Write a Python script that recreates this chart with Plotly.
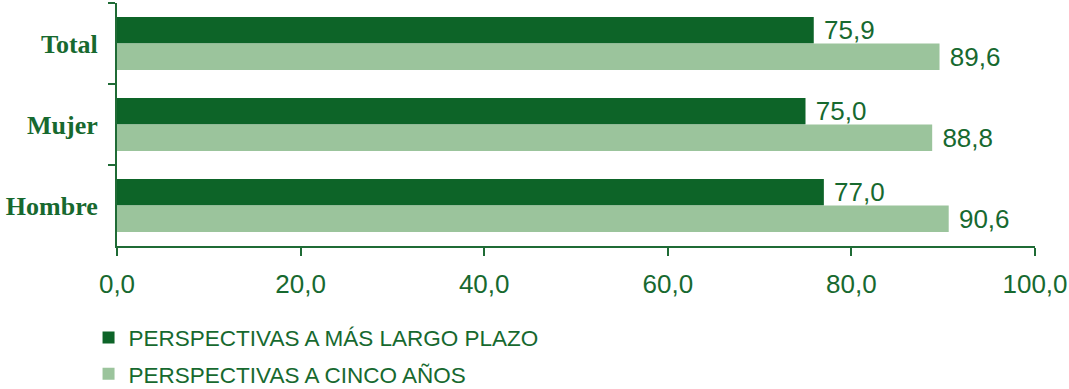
import plotly.graph_objects as go

categories = ["Total", "Mujer", "Hombre"]
largo_plazo = [75.9, 75.0, 77.0]
cinco_anos = [89.6, 88.8, 90.6]
series_names = ["PERSPECTIVAS A MÁS LARGO PLAZO", "PERSPECTIVAS A CINCO AÑOS"]
x_ticks = [0, 20, 40, 60, 80, 100]

DARK = "#0d6428"
LIGHT = "#9bc49c"
TEXT = "#17692f"
AXIS = "#1f6b35"
SANS = "Liberation Sans, Arial, sans-serif"
SERIF = "Liberation Serif, Times New Roman, serif"

fig = go.Figure()
for name, vals, col, grp in [(series_names[0], largo_plazo, DARK, "a"),
                             (series_names[1], cinco_anos, LIGHT, "b")]:
    fig.add_trace(go.Bar(
        y=categories, x=vals, name=name, orientation="h",
        marker=dict(color=col, line=dict(width=0)),
        texttemplate=" %{x:.1f}", textposition="outside",
        constraintext="none",
        textfont=dict(family=SANS, size=26, color=TEXT),
        cliponaxis=False, legendgroup=grp,
    ))

fig.update_layout(
    width=1069, height=389,
    margin=dict(l=117, r=34, t=3, b=143, autoexpand=False),
    paper_bgcolor="white", plot_bgcolor="white",
    separators=",.",
    barmode="group", bargap=0.345, bargroupgap=0,
    showlegend=True,
    legend=dict(
        orientation="v", x=-0.031, xanchor="left", y=-0.29, yanchor="top",
        font=dict(family=SANS, size=22.5, color=TEXT),
        tracegroupgap=4, traceorder="grouped",
        bgcolor="rgba(0,0,0,0)",
    ),
    xaxis=dict(
        range=[0, 100], tickvals=x_ticks, tickformat=".1f",
        automargin=False,
        showgrid=False, zeroline=False,
        showline=True, linecolor=AXIS, linewidth=2,
        ticks="outside", ticklen=8, tickwidth=2, tickcolor=AXIS,
        tickfont=dict(family=SANS, size=26, color=TEXT),
        ticklabelstandoff=6,
    ),
    yaxis=dict(
        type="category", categoryorder="array", categoryarray=categories,
        range=[2.5, -0.5], autorange=False, automargin=False,
        showgrid=False, zeroline=False,
        showline=True, linecolor=AXIS, linewidth=2,
        ticks="outside", ticklen=7, tickwidth=2, tickcolor=AXIS,
        tickson="boundaries",
        tickfont=dict(family=SERIF, size=26, color=TEXT, weight="bold"),
        ticklabelstandoff=12,
    ),
)

fig.write_html(
    "out.html",
    config={"displayModeBar": False},
    post_script="document.body.style.margin='0';document.body.style.padding='0';",
)
